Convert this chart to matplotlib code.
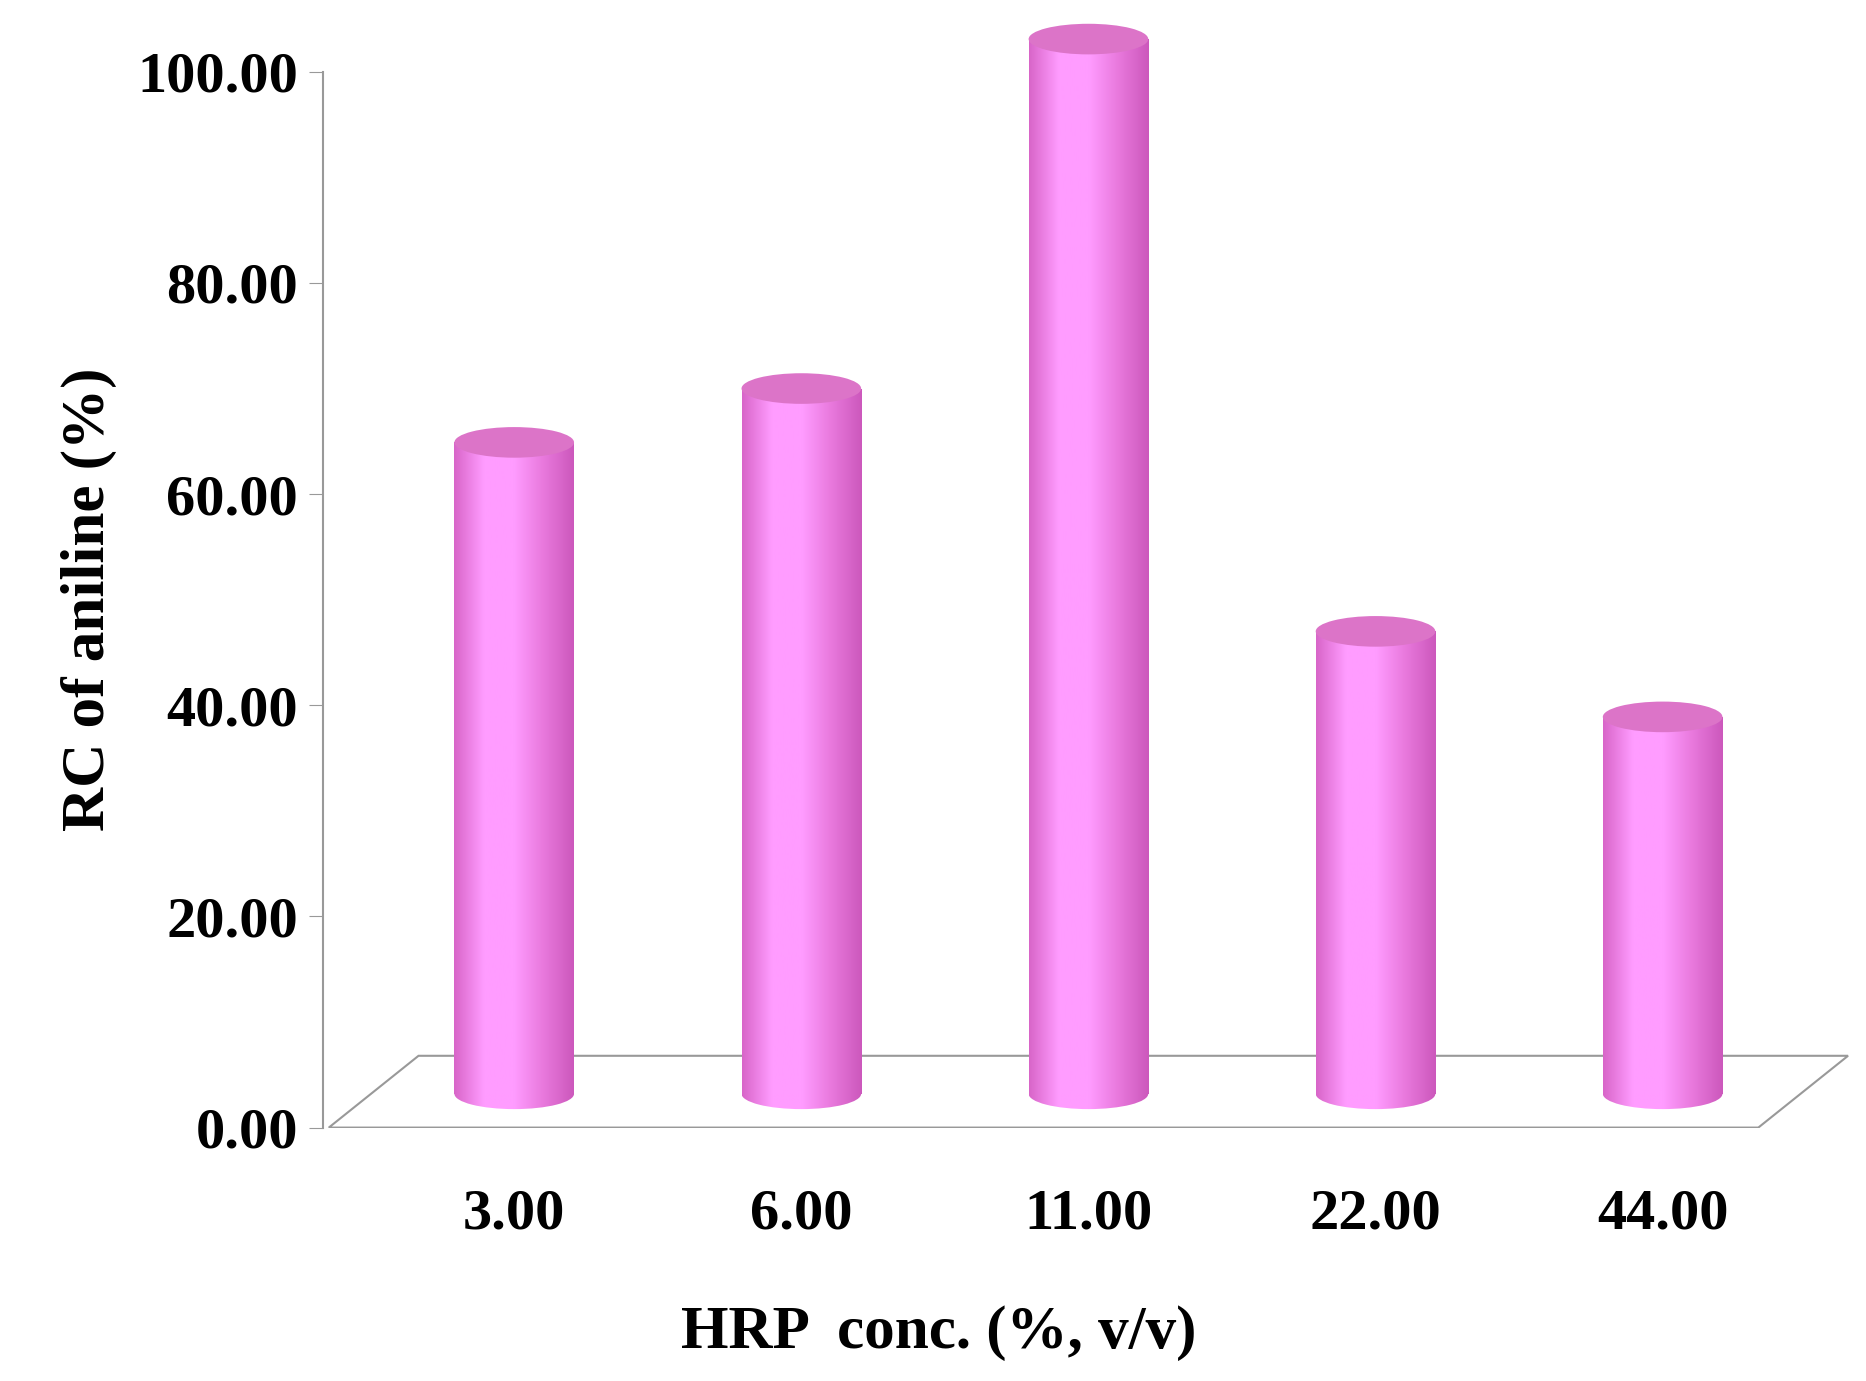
import matplotlib
matplotlib.use("Agg")
import matplotlib.pyplot as plt
import numpy as np
from matplotlib.patches import Rectangle, Ellipse, Polygon
from matplotlib.colors import LinearSegmentedColormap

categories = ["3.00", "6.00", "11.00", "22.00", "44.00"]
values = [61.7, 66.8, 99.9, 43.8, 35.7]
yticks = [0, 20, 40, 60, 80, 100]

font = dict(family="Liberation Serif", weight="bold")
fig = plt.figure(figsize=(18.66, 13.81), dpi=100)
ax = fig.add_axes([0.173, 0.1835, 0.827, 0.7645])
ax.set_xlim(270, 1560)
ax.set_ylim(0, 100)
for s in ax.spines.values():
    s.set_visible(False)
ax.set_xticks([])
ax.set_yticks(yticks)
ax.set_yticklabels([f"{t:.2f}" for t in yticks], fontsize=42, **font)
ax.tick_params(axis="y", length=10, color="#999999", pad=8)
ax.plot([270, 270], [0, 100], color="#999999", lw=1.5, clip_on=False)
floor = Polygon([(275, 0), (1470, 0), (1545, 6.8), (350, 6.8)], closed=True,
                facecolor="none", edgecolor="#999999", lw=1.5)
ax.add_patch(floor)

cmap = LinearSegmentedColormap.from_list("c", ["#d865c8", "#ff9cff", "#ff9cff", "#e878dc", "#cc58bc"])
centers = [430, 670, 910, 1150, 1390]
w = 100
y0 = 3.2
eh = 2.9
grad = np.linspace(0, 1, 256).reshape(1, -1)
for i, (c, v) in enumerate(zip(centers, values)):
    rect = Rectangle((c - w / 2, y0), w, v, transform=ax.transData)
    im = ax.imshow(grad, cmap=cmap, extent=(c - w / 2, c + w / 2, y0, y0 + v),
                   aspect="auto", zorder=2)
    im.set_clip_path(rect)
    bot = Ellipse((c, y0), w, eh, zorder=2)
    im2 = ax.imshow(grad, cmap=cmap, extent=(c - w / 2, c + w / 2, y0 - eh, y0 + eh),
                    aspect="auto", zorder=2)
    bot.set_transform(ax.transData)
    im2.set_clip_path(bot)
    ax.add_patch(Ellipse((c, y0 + v), w, eh, facecolor="#dc74c8", edgecolor="none",
                         zorder=3, clip_on=False))
    ax.text(c, -8.2, categories[i], ha="center", va="center", fontsize=42, **font)

ax.set_aspect("auto")
ax.set_xlim(270, 1560)
ax.set_ylim(0, 100)
ax.text(785, -19.5, "HRP  conc. (%, v/v)", ha="center", va="center", fontsize=44, **font)
ax.set_ylabel("RC of aniline (%)", fontsize=44, labelpad=14, **font)
fig.savefig("out.png", dpi=100)
